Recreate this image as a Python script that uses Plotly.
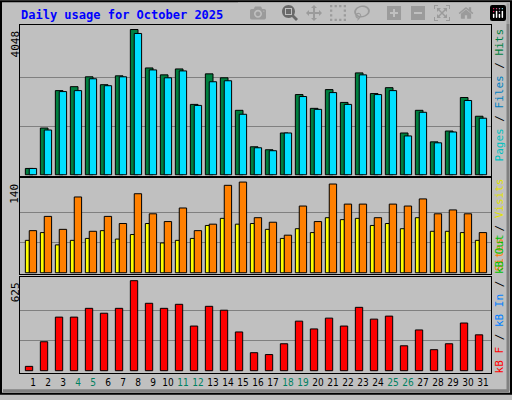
import plotly.graph_objects as go

days = list(range(1, 32))
hits = [176,1302,2345,2455,2730,2510,2757,4048,2977,2784,2949,1961,2812,2702,1796,780,697,1164,2235,1851,2373,2016,2839,2263,2427,1164,1796,917,1219,2153,1631]
files = [176,1247,2318,2345,2675,2482,2730,3938,2922,2702,2894,1933,2592,2620,1686,752,670,1164,2180,1823,2290,1961,2784,2235,2345,1082,1741,890,1192,2070,1576]
sites = [50,62,43,50,53,65,52,59,76,46,50,53,73,84,75,76,67,53,68,62,85,82,84,73,76,68,85,64,64,62,50]
visits = [65,87,67,117,64,87,76,122,91,79,100,65,75,135,140,85,78,58,103,79,137,106,106,85,106,103,114,91,97,91,62]
kbytes = [30,201,372,372,433,399,433,625,468,433,461,310,447,420,269,125,112,187,344,290,365,310,440,358,379,173,283,146,187,331,249]
weekend = {4,5,11,12,18,19,25,26}
max_hits, max_visits, max_kb = 4048, 140, 625

W, H = 512, 400
L, R, T, B = 20, 21, 25, 22
pw, ph = W - L - R, H - T - B
def py(y):
    return (H - B - y) / ph
def px(x):
    return (x - L) / pw

fig = go.Figure()
line = dict(color="black", width=1)
fig.add_bar(x=days, y=hits, offset=-0.51, width=0.51, marker=dict(color="#008040", line=line), xaxis="x", yaxis="y")
fig.add_bar(x=days, y=files, offset=-0.25, width=0.49, marker=dict(color="#00e0ff", line=line), xaxis="x", yaxis="y")
fig.add_bar(x=days, y=sites, offset=-0.51, width=0.27, marker=dict(color="#ffff00", line=line), xaxis="x2", yaxis="y2")
fig.add_bar(x=days, y=visits, offset=-0.25, width=0.49, marker=dict(color="#ff8000", line=line), xaxis="x2", yaxis="y2")
fig.add_bar(x=days, y=kbytes, offset=-0.51, width=0.49, marker=dict(color="#ff0000", line=line), xaxis="x3", yaxis="y3")

xr = [1 - 13/15, 1 + (491 - 33)/15]
ax_common = dict(range=xr, showgrid=False, zeroline=False, showline=True, linecolor="black", linewidth=1, mirror=True, fixedrange=True)
ticktext = [f'<span style="color:#008060">{d}</span>' if d in weekend else str(d) for d in days]
fig.update_layout(
    width=W, height=H, margin=dict(l=L, r=R, t=T, b=B),
    paper_bgcolor="#c0c0c0", plot_bgcolor="#c0c0c0", showlegend=False, barmode="overlay",
    font=dict(family="DejaVu Sans Mono", size=11, color="black"),
    xaxis=dict(ax_common, anchor="y", showticklabels=False, ticks=""),
    xaxis2=dict(ax_common, anchor="y2", showticklabels=False, ticks=""),
    xaxis3=dict(ax_common, anchor="y3", tickvals=days, ticktext=ticktext, ticks="", tickangle=0,
                tickfont=dict(family="DejaVu Sans Condensed", size=10)),
    yaxis=dict(domain=[py(178), py(25)], range=[-30, 4174], tickvals=[max_hits/3, 2*max_hits/3],
               showticklabels=False, gridcolor="#808080", zeroline=False, showline=True, linecolor="black", mirror=True),
    yaxis2=dict(domain=[py(278), py(180)], range=[-2.6, 146.6], tickvals=[max_visits/3, 2*max_visits/3],
                showticklabels=False, gridcolor="#808080", zeroline=False, showline=True, linecolor="black", mirror=True),
    yaxis3=dict(domain=[py(378), py(281)], range=[-16, 648], tickvals=[max_kb/3, 2*max_kb/3],
                showticklabels=False, gridcolor="#808080", zeroline=False, showline=True, linecolor="black", mirror=True),
)

ann = []
ann.append(dict(text="<b>Daily usage for October 2025</b>", x=px(19), y=py(15), xref="paper", yref="paper",
                xanchor="left", yanchor="middle", showarrow=False, font=dict(family="DejaVu Sans Mono", size=12, color="#0000ff")))
for val, ytop in [(max_hits, 29), (max_visits, 184), (max_kb, 284)]:
    ann.append(dict(text=str(val), x=px(15), y=py(ytop), xref="paper", yref="paper", textangle=-90,
                    xanchor="center", yanchor="top", showarrow=False, font=dict(family="DejaVu Sans Mono", size=11)))
ann.append(dict(text='<span style="color:#00c0c0">Pages</span> / <span style="color:#0080c0">Files</span> / <span style="color:#008040">Hits</span>',
                x=px(499), y=py(27), xref="paper", yref="paper", textangle=-90, xanchor="center", yanchor="top", showarrow=False))
ann.append(dict(text='<span style="color:#ff8000">Sites</span> / <span style="color:#e0e000">Visits</span>',
                x=px(499), y=py(179), xref="paper", yref="paper", textangle=-90, xanchor="center", yanchor="top", showarrow=False))
ann.append(dict(text='<span style="color:#ff0000">kB F</span> / <span style="color:#0080ff">kB In</span> / <span style="color:#00c000">kB Out</span>',
                x=px(499), y=py(381), xref="paper", yref="paper", textangle=-90, xanchor="center", yanchor="bottom", showarrow=False))
fig.update_layout(annotations=ann)

fig.add_shape(type="rect", xref="paper", yref="paper", x0=px(1), x1=px(511), y0=py(399), y1=py(1),
              line=dict(color="black", width=2))
fig.add_shape(type="line", xref="paper", yref="paper", x0=px(3), x1=px(509), y0=py(396), y1=py(396),
              line=dict(color="#808080", width=3))
fig.add_shape(type="line", xref="paper", yref="paper", x0=px(508), x1=px(508), y0=py(396), y1=py(3),
              line=dict(color="#808080", width=3))

fig.write_html("out.html")
with open("out.html", encoding="utf-8") as f:
    html = f.read()
html = html.replace("<head>", "<head><style>html,body{margin:0;padding:0;overflow:hidden}</style>", 1)
with open("out.html", "w", encoding="utf-8") as f:
    f.write(html)
